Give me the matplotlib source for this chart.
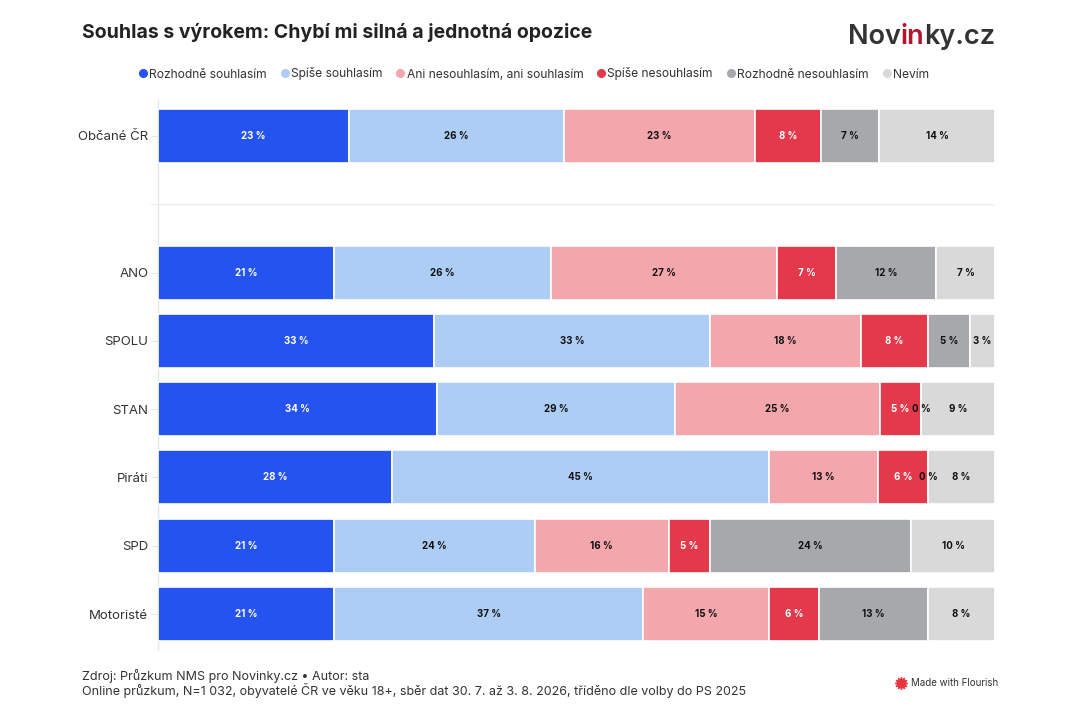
import matplotlib
matplotlib.use("Agg")
import matplotlib.pyplot as plt
import numpy as np
from matplotlib.lines import Line2D

plt.rcParams['font.family'] = ['Inter', 'DejaVu Sans']

groups = ["Občané ČR", "ANO", "SPOLU", "STAN", "Piráti", "SPD", "Motoristé"]
series_names = ["Rozhodně souhlasím", "Spíše souhlasím", "Ani nesouhlasím, ani souhlasím",
                "Spíše nesouhlasím", "Rozhodně nesouhlasím", "Nevím"]
rozhodne_souhlasim = [23, 21, 33, 34, 28, 21, 21]
spise_souhlasim = [26, 26, 33, 29, 45, 24, 37]
ani_ani = [23, 27, 18, 25, 13, 16, 15]
spise_nesouhlasim = [8, 7, 8, 5, 6, 5, 6]
rozhodne_nesouhlasim = [7, 12, 5, 0, 0, 24, 13]
nevim = [14, 7, 3, 9, 8, 10, 8]

colors = ["#2553f0", "#aecdf5", "#f4a6ad", "#e3394a", "#a6a8ab", "#d9d9d9"]
label_colors = ["white", "#111111", "#111111", "white", "#111111", "#111111"]

data = np.array([rozhodne_souhlasim, spise_souhlasim, ani_ani,
                 spise_nesouhlasim, rozhodne_nesouhlasim, nevim], dtype=float)
totals = data.sum(axis=0)
norm = data / totals * 100

ypos = np.array([0, 2, 3, 4, 5, 6, 7])

fig = plt.figure(figsize=(10.8, 7.2), dpi=100)
ax = fig.add_axes([158/1080, 1-650/720, 837/1080, 550/720])

left = np.zeros(len(groups))
for i, name in enumerate(series_names):
    ax.barh(ypos, norm[i], left=left, height=0.79, color=colors[i],
            edgecolor="white", linewidth=1.2, label=name, zorder=3)
    for j in range(len(groups)):
        cx = left[j] + norm[i][j] / 2
        txtcol = label_colors[i] if data[i][j] > 0 else "#111111"
        ax.text(cx, ypos[j], f"{int(data[i][j])} %", ha="center", va="center",
                fontsize=7, fontweight="bold", color=txtcol, zorder=4)
    left += norm[i]

ax.set_xlim(0, 100)
ax.set_ylim(7.527, -0.527)
ax.set_yticks(ypos)
ax.set_yticklabels(groups, fontsize=9.5, color="#333333")
ax.tick_params(axis='y', length=5, color="#e6e6e6", pad=2)
ax.set_xticks([])
for s in ["top", "right", "bottom"]:
    ax.spines[s].set_visible(False)
ax.spines["left"].set_color("#e6e6e6")
ax.spines["left"].set_linewidth(1)
ax.axhline(1.0, color="#eeeeee", linewidth=1, zorder=1)
ax.plot([-0.8, 0], [1.0, 1.0], color="#eeeeee", linewidth=1, clip_on=False)

# Title
fig.text(82/1080, 1-32/720, "Souhlas s výrokem: Chybí mi silná a jednotná opozice",
         fontsize=14, fontweight="bold", color="#222222", va="center", ha="left")

# Logo
fig.canvas.draw()
renderer = fig.canvas.get_renderer()
x = 848/1080
ylogo = 1-37/720
for part, col in [("Nov", "#333333"), ("in", "#b3152d"), ("ky.cz", "#333333")]:
    t = fig.text(x, ylogo, part, fontsize=19.5, fontweight="semibold", color=col,
                 va="center", ha="left")
    bb = t.get_window_extent(renderer=renderer)
    x += bb.width / 1080

# Legend
hs = [Line2D([0], [0], marker='o', linestyle='', markersize=5.5,
             markerfacecolor=c, markeredgecolor=c) for c in colors]
fig.legend(hs, series_names, loc="center", bbox_to_anchor=(533/1080, 1-74/720),
           ncol=6, frameon=False, fontsize=8.7, handletextpad=0.0,
           columnspacing=1.0, handlelength=1.0, labelcolor="#333333")

# Footer
fig.text(82/1080, 1-676/720, "Zdroj: Průzkum NMS pro Novinky.cz • Autor: sta",
         fontsize=9, color="#333333", va="center", ha="left")
fig.text(82/1080, 1-691/720,
         "Online průzkum, N=1 032, obyvatelé ČR ve věku 18+, sběr dat 30. 7. až 3. 8. 2026, tříděno dle volby do PS 2025",
         fontsize=9, color="#333333", va="center", ha="left")
fig.text(911/1080, 1-683/720, "Made with Flourish", fontsize=7, color="#333333",
         va="center", ha="left")
fig.lines.append(Line2D([901/1080], [1-683/720], marker=(12, 1, 0), markersize=9,
                        color="#e8343f", transform=fig.transFigure, linestyle=''))

fig.savefig("out.png", dpi=100, facecolor="white")
